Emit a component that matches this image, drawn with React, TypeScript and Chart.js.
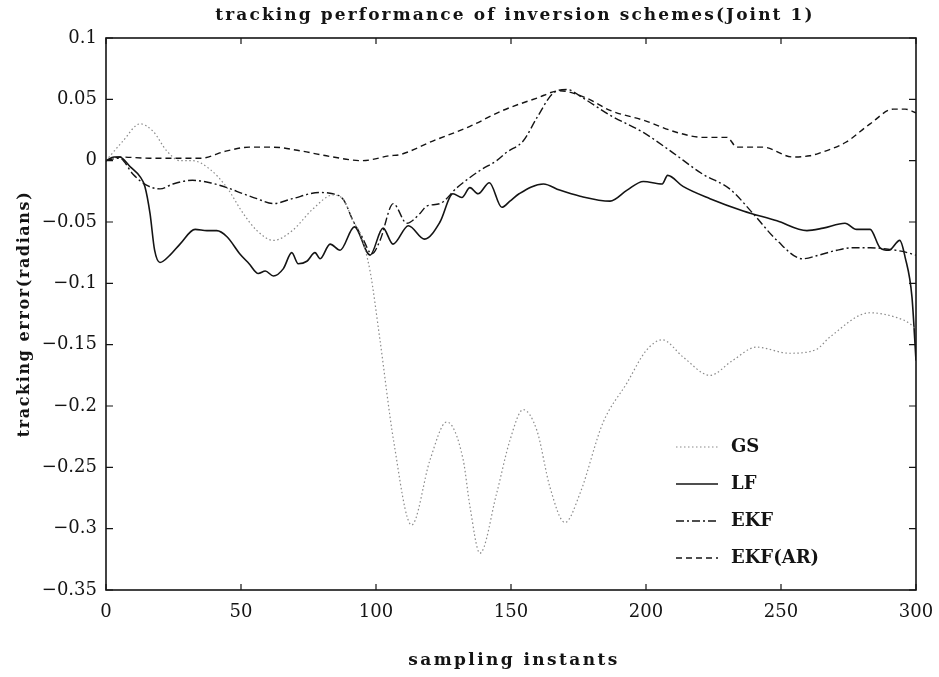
import React, { useEffect, useRef } from "react";
import { Chart, registerables } from "chart.js";

Chart.register(...registerables);

const TITLE = "tracking performance of inversion schemes(Joint 1)";
const X_TITLE = "sampling instants";
const Y_TITLE = "tracking error(radians)";

const X_TICKS = [0, 50, 100, 150, 200, 250, 300];
const Y_TICKS = [0.1, 0.05, 0, -0.05, -0.1, -0.15, -0.2, -0.25, -0.3, -0.35];

const SERIES_LABELS = ["GS", "LF", "EKF", "EKF(AR)"];

const GS_X = [0, 6.3, 12.6, 17.4, 22.5, 27.4, 32, 38.5, 44.8, 50.8, 55.9, 62, 69, 76.8, 84, 88, 91.5, 94, 97.8, 101.4, 106.5, 113.2, 120, 126.2, 132.3, 134.8, 138.5, 144.7, 149.6, 154.5, 159.6, 164.4, 170, 175.6, 184, 193, 200, 206, 213.7, 223.7, 232, 241, 253, 263, 268, 283, 293, 297.8, 300];
const GS_Y = [0, 0.016, 0.03, 0.024, 0.008, 0, 0, -0.007, -0.022, -0.043, -0.057, -0.065, -0.057, -0.039, -0.028, -0.032, -0.049, -0.059, -0.09, -0.145, -0.228, -0.297, -0.244, -0.213, -0.244, -0.282, -0.32, -0.271, -0.228, -0.203, -0.22, -0.266, -0.295, -0.271, -0.214, -0.181, -0.155, -0.146, -0.16, -0.175, -0.163, -0.152, -0.157, -0.154, -0.144, -0.124, -0.128, -0.133, -0.138];

const LF_X = [0, 3, 5, 9, 12.6, 14.4, 16.3, 18, 20, 23.7, 27.4, 33, 37.4, 41, 44.8, 49.6, 53, 56.4, 59, 62, 65.7, 68.8, 71.2, 74.4, 77.4, 79.3, 83, 86.7, 92, 97.8, 102.6, 106.3, 112, 118, 123.7, 128.5, 131.8, 134.8, 137.8, 142, 146.6, 149.6, 153, 162, 168, 175.6, 186.7, 193, 199, 206, 208, 213.7, 223.7, 236, 248.5, 259.6, 265.6, 273.7, 278, 283, 286.7, 290, 294, 296, 298.5, 300];
const LF_Y = [0, 0.003, 0.003, -0.005, -0.013, -0.021, -0.043, -0.073, -0.083, -0.077, -0.068, -0.056, -0.057, -0.057, -0.062, -0.076, -0.084, -0.092, -0.09, -0.094, -0.088, -0.075, -0.084, -0.082, -0.075, -0.08, -0.068, -0.073, -0.054, -0.077, -0.055, -0.068, -0.053, -0.064, -0.05, -0.027, -0.03, -0.022, -0.027, -0.018, -0.038, -0.033, -0.027, -0.019, -0.024, -0.029, -0.033, -0.024, -0.017, -0.019, -0.012, -0.021, -0.031, -0.041, -0.049, -0.057, -0.055, -0.051, -0.056, -0.056, -0.071, -0.073, -0.065, -0.079, -0.111, -0.163];

const EKF_X = [0, 5, 10, 15, 20, 24.8, 32, 38.5, 44.8, 50.8, 55.9, 62, 69, 79, 84, 88, 91.5, 94.8, 98.5, 101.5, 106.4, 111.4, 116.3, 118.8, 123.7, 130, 138.5, 144.7, 148.5, 154.5, 159.6, 165.6, 170.7, 176.7, 186.7, 199, 209, 221, 231, 239.6, 248.5, 258, 264, 270.7, 276.7, 283, 289, 295, 300];
const EKF_Y = [0, 0.002, -0.011, -0.02, -0.023, -0.019, -0.016, -0.018, -0.022, -0.027, -0.031, -0.035, -0.031, -0.026, -0.027, -0.032, -0.049, -0.062, -0.076, -0.065, -0.035, -0.051, -0.043, -0.037, -0.035, -0.022, -0.008, 0, 0.007, 0.016, 0.035, 0.055, 0.058, 0.051, 0.037, 0.023, 0.008, -0.011, -0.023, -0.043, -0.065, -0.08, -0.077, -0.073, -0.071, -0.071, -0.072, -0.074, -0.077];

const EKFAR_X = [0, 5, 16, 35, 44.8, 53, 62, 72, 84, 95, 105, 109, 121, 134.8, 147, 159.6, 168, 178, 186.7, 199, 211.5, 221, 230, 233.7, 243.3, 254.4, 260.7, 264, 274, 283, 291.6, 296, 300];
const EKFAR_Y = [0, 0.003, 0.002, 0.002, 0.008, 0.011, 0.011, 0.008, 0.003, 0, 0.004, 0.005, 0.016, 0.028, 0.041, 0.051, 0.057, 0.051, 0.041, 0.033, 0.023, 0.019, 0.019, 0.011, 0.011, 0.003, 0.004, 0.006, 0.015, 0.03, 0.042, 0.042, 0.039];

const INK = "#141414";
const GS_COLOR = "#8a8a8a";

const pts = (xs: number[], ys: number[]) => xs.map((x, i) => ({ x, y: ys[i] }));

const TEXT_FONT = "'DejaVu Serif', serif";

function spacedText(ctx: any, text: string, x: number, y: number, spacing: number) {
  ctx.save();
  if ("letterSpacing" in ctx) ctx.letterSpacing = spacing + "px";
  ctx.fillText(text, x, y);
  ctx.restore();
}

const decorPlugin = {
  id: "decor",
  afterDatasetsDraw(chart: any) {
    const { ctx, chartArea } = chart;
    const { left, right, top, bottom } = chartArea;
    const xs = chart.scales.x;
    const ys = chart.scales.y;
    ctx.save();
    ctx.strokeStyle = INK;
    ctx.lineWidth = 1.6;
    ctx.setLineDash([]);
    ctx.strokeRect(left, top, right - left, bottom - top);
    ctx.lineWidth = 1.2;
    ctx.beginPath();
    X_TICKS.forEach((v) => {
      const p = xs.getPixelForValue(v);
      ctx.moveTo(p, bottom);
      ctx.lineTo(p, bottom - 6);
      ctx.moveTo(p, top);
      ctx.lineTo(p, top + 6);
    });
    Y_TICKS.forEach((v) => {
      const p = ys.getPixelForValue(v);
      ctx.moveTo(left, p);
      ctx.lineTo(left + 7, p);
      ctx.moveTo(right, p);
      ctx.lineTo(right - 7, p);
    });
    ctx.stroke();

    // legend
    const lx0 = right - 240;
    const lx1 = right - 198;
    const tx = right - 185;
    const ly0 = top + 409;
    const step = 37;
    chart.data.datasets.forEach((ds: any, i: number) => {
      const y = ly0 + i * step;
      ctx.strokeStyle = ds.borderColor;
      ctx.lineWidth = ds.borderWidth;
      ctx.setLineDash(ds.borderDash || []);
      ctx.beginPath();
      ctx.moveTo(lx0, y);
      ctx.lineTo(lx1, y);
      ctx.stroke();
      ctx.setLineDash([]);
      ctx.fillStyle = INK;
      ctx.font = "bold 18px " + TEXT_FONT;
      ctx.textAlign = "left";
      ctx.textBaseline = "middle";
      ctx.fillText(ds.label, tx, y);
    });
    ctx.restore();
  },
  afterDraw(chart: any) {
    const { ctx, chartArea } = chart;
    const { left, right, top, bottom } = chartArea;
    ctx.save();
    ctx.fillStyle = INK;
    ctx.textAlign = "center";
    ctx.textBaseline = "middle";
    ctx.font = "bold 17px " + TEXT_FONT;
    spacedText(ctx, TITLE, (left + right) / 2 + 4, 16, 2.1);
    spacedText(ctx, X_TITLE, (left + right) / 2 + 3, 661, 2.4);
    ctx.font = "bold 16px " + TEXT_FONT;
    ctx.translate(25, (top + bottom) / 2);
    ctx.rotate(-Math.PI / 2);
    spacedText(ctx, Y_TITLE, 0, 0, 1.6);
    ctx.restore();
  },
};

function fmt(v: number) {
  const r = Math.round(v * 1000) / 1000;
  if (r === 0) return "0";
  return String(r).replace("-", "\u2212");
}

export default function App() {
  const ref = useRef<HTMLCanvasElement | null>(null);
  useEffect(() => {
    if (!ref.current) return;
    const chart = new Chart(ref.current, {
      type: "line",
      data: {
        datasets: [
          {
            label: SERIES_LABELS[0],
            data: pts(GS_X, GS_Y),
            borderColor: GS_COLOR,
            borderWidth: 1.2,
            borderDash: [1.5, 2.5],
            pointRadius: 0,
            cubicInterpolationMode: "monotone",
            fill: false,
          },
          {
            label: SERIES_LABELS[1],
            data: pts(LF_X, LF_Y),
            borderColor: INK,
            borderWidth: 1.6,
            borderDash: [],
            pointRadius: 0,
            cubicInterpolationMode: "monotone",
            fill: false,
          },
          {
            label: SERIES_LABELS[2],
            data: pts(EKF_X, EKF_Y),
            borderColor: INK,
            borderWidth: 1.4,
            borderDash: [8, 3, 2, 3],
            pointRadius: 0,
            cubicInterpolationMode: "monotone",
            fill: false,
          },
          {
            label: SERIES_LABELS[3],
            data: pts(EKFAR_X, EKFAR_Y),
            borderColor: INK,
            borderWidth: 1.4,
            borderDash: [6, 4],
            pointRadius: 0,
            cubicInterpolationMode: "monotone",
            fill: false,
          },
        ],
      },
      options: {
        animation: false,
        responsive: true,
        maintainAspectRatio: false,
        layout: { padding: { top: 38, right: 23, bottom: 0, left: 0 } },
        plugins: {
          legend: { display: false },
          title: { display: false },
          tooltip: { enabled: false },
        },
        scales: {
          x: {
            type: "linear",
            min: 0,
            max: 300,
            grid: { display: false, drawTicks: false },
            border: { display: false },
            afterBuildTicks: (scale: any) => {
              scale.ticks = X_TICKS.map((v) => ({ value: v }));
            },
            afterFit: (scale: any) => {
              scale.height = 87;
              scale.paddingLeft = 0;
              scale.paddingRight = 0;
            },
            ticks: {
              padding: 12,
              maxRotation: 0,
              autoSkip: false,
              color: INK,
              font: { family: TEXT_FONT, size: 18 },
              callback: (v: any) => fmt(Number(v)),
            },
          },
          y: {
            type: "linear",
            min: -0.35,
            max: 0.1,
            grid: { display: false, drawTicks: false },
            border: { display: false },
            afterBuildTicks: (scale: any) => {
              scale.ticks = Y_TICKS.map((v) => ({ value: v }));
            },
            afterFit: (scale: any) => {
              scale.width = 106;
              scale.paddingTop = 0;
              scale.paddingBottom = 0;
            },
            ticks: {
              padding: 9,
              autoSkip: false,
              color: INK,
              font: { family: TEXT_FONT, size: 18 },
              callback: (v: any) => fmt(Number(v)),
            },
          },
        },
      },
      plugins: [decorPlugin],
    } as any);
    return () => chart.destroy();
  }, []);

  return (
    <div style={{ position: "absolute", left: 0, top: 0, width: 939, height: 677, background: "#fff" }}>
      <canvas ref={ref} />
    </div>
  );
}
